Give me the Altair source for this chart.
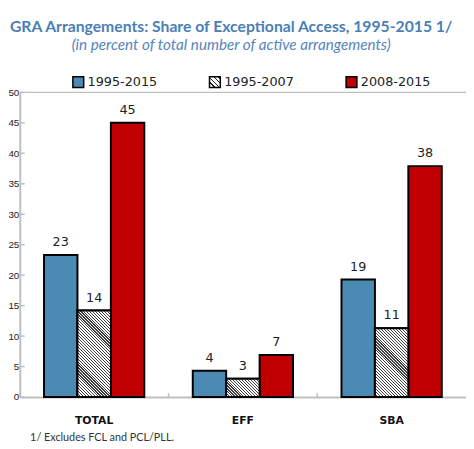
import json
import math
import altair as alt
import pandas as pd

# ---- data ----
categories = ["TOTAL", "EFF", "SBA"]
series = ["1995-2015", "1995-2007", "2008-2015"]
v_1995_2015 = [23.3, 4.3, 19.3]
v_1995_2007 = [14.2, 3.0, 11.3]
v_2008_2015 = [45.0, 6.9, 37.9]
y_ticks = [0, 5, 10, 15, 20, 25, 30, 35, 40, 45, 50]

rows = []
for ser, vals in zip(series, [v_1995_2015, v_1995_2007, v_2008_2015]):
    for cat, v in zip(categories, vals):
        rows.append({"cat": cat, "series": ser, "value": v})
df = pd.DataFrame(rows)
ticks_df = pd.DataFrame({"value": y_ticks})
cats_df = pd.DataFrame({"cat": categories})

# ---- layout / style ----
W, H = 454, 310
Y_MAX = 50
BLUE, RED, GRAY = "#4b8ab2", "#c00000", "#bfbfbf"
OUTER = 0.725
BAR_W = (W / 3) / (3 + 2 * OUTER)
R2 = math.sqrt(2)


def hatch(w, h, period=3 / R2, thick=1.2 / R2, ink="#404040"):
    L = (w + h) / R2
    s = (w + h) / (w * w + h * h)
    stops = []
    k = 0
    while k * period < L:
        a = k * period / L
        b = min((k * period + thick) / L, 1.0)
        stops += [
            {"offset": a, "color": "#ffffff"},
            {"offset": a, "color": ink},
            {"offset": b, "color": ink},
            {"offset": b, "color": "#ffffff"},
        ]
        k += 1
    stops.append({"offset": 1.0, "color": "#ffffff"})
    return {"gradient": "linear", "x1": 0, "y1": 1, "x2": s * w, "y2": 1 - s * h, "stops": stops}


legend_grad = hatch(11, 11, period=3.4, thick=1.0, ink="#202020")
legend_expr = json.dumps(legend_grad)

x_enc = alt.X(
    "cat:N",
    sort=categories,
    scale=alt.Scale(paddingInner=0, paddingOuter=0),
    axis=alt.Axis(
        title="1/  Excludes FCL and PCL/PLL.",
        titleX=10,
        titleY=44,
        titleAlign="left",
        titleAnchor="start",
        titleBaseline="alphabetic",
        titleFont="Lato",
        titleFontSize=11,
        titleFontWeight="normal",
        titleColor="#333333",
        labelAngle=0,
        labelFont="DejaVu Sans",
        labelFontWeight="bold",
        labelFontSize=11,
        labelColor="#111111",
        labelPadding=18,
        ticks=False,
        domainColor=GRAY,
        domainWidth=2,
    ),
)
xoff_enc = alt.XOffset(
    "series:N",
    sort=series,
    scale=alt.Scale(domain=series, paddingInner=0, paddingOuter=OUTER),
)
y_axis = alt.Axis(
    title=None,
    values=y_ticks,
    tickCount=len(y_ticks),
    ticks=False,
    grid=False,
    labelOverlap=False,
    labelPadding=1,
    labelFont="Liberation Sans",
    labelFontSize=10,
    labelColor="#222222",
    domainColor=GRAY,
    domainWidth=2,
)
y_scale = alt.Scale(domain=[0, Y_MAX], nice=False)
y_enc = alt.Y("value:Q", scale=y_scale, axis=y_axis)

bars = alt.Chart(df).mark_bar(stroke="black", strokeWidth=2).encode(
    x=x_enc,
    xOffset=xoff_enc,
    y=y_enc,
    fill=alt.Fill(
        "series:N",
        sort=series,
        scale=alt.Scale(domain=series, range=[BLUE, {"expr": legend_expr}, RED]),
        legend=alt.Legend(
            orient="none",
            legendX=53,
            legendY=-17,
            direction="horizontal",
            title=None,
            symbolType="square",
            symbolSize=121,
            symbolStrokeColor="black",
            symbolStrokeWidth=1.5,
            labelFont="DejaVu Sans",
            labelFontSize=13,
            labelColor="#222222",
            labelOffset=3,
            columnPadding=50,
            padding=0,
        ),
    ),
)

layers = [bars]
for cat, v in zip(categories, v_1995_2007):
    g = hatch(BAR_W, v * H / Y_MAX)
    layers.append(
        alt.Chart(df)
        .transform_filter((alt.datum.series == "1995-2007") & (alt.datum.cat == cat))
        .mark_bar(stroke="black", strokeWidth=2, fill=g)
        .encode(x=x_enc, xOffset=xoff_enc, y=y_enc)
    )

labels = alt.Chart(df).mark_text(
    baseline="bottom", dy=-6, font="DejaVu Sans", fontSize=13, color="#222222"
).encode(
    x=x_enc, xOffset=xoff_enc, y=y_enc, text=alt.Text("value:Q", format=".0f")
)

yticks = alt.Chart(ticks_df).mark_rule(color=GRAY, strokeWidth=1.5).encode(
    y=y_enc, x=alt.value(0), x2=alt.value(5)
)
xticks = alt.Chart(cats_df).mark_rule(color=GRAY, strokeWidth=1.5).encode(
    x=alt.X("cat:N", sort=categories, bandPosition=0), y=alt.value(H - 4), y2=alt.value(H)
)
top_line = alt.Chart(ticks_df).transform_filter(alt.datum.value == Y_MAX).mark_rule(
    color=GRAY, strokeWidth=1.5
).encode(y=y_enc, x=alt.value(0), x2=alt.value(W))

chart = (
    alt.layer(*layers, labels, yticks, xticks, top_line)
    .properties(
        width=W,
        height=H,
        autosize=alt.AutoSizeParams(type="none"),
        padding={"left": 12, "top": 82, "right": 0, "bottom": 49},
        title=alt.TitleParams(
            text="GRA Arrangements: Share of Exceptional Access, 1995-2015 1/",
            subtitle="(in percent of total number of active arrangements)",
            anchor="middle",
            frame="group",
            dx=-12,
            offset=23,
            font="Lato",
            fontSize=16,
            fontWeight="bold",
            color="#4a7fb5",
            subtitleFont="Lato",
            subtitleFontSize=15.5,
            subtitleFontStyle="italic",
            subtitleColor="#5585bb",
            subtitlePadding=3,
        ),
    )
    .configure_view(stroke=None)
)

chart.save("out.html", embed_options={"renderer": "svg", "actions": False})
